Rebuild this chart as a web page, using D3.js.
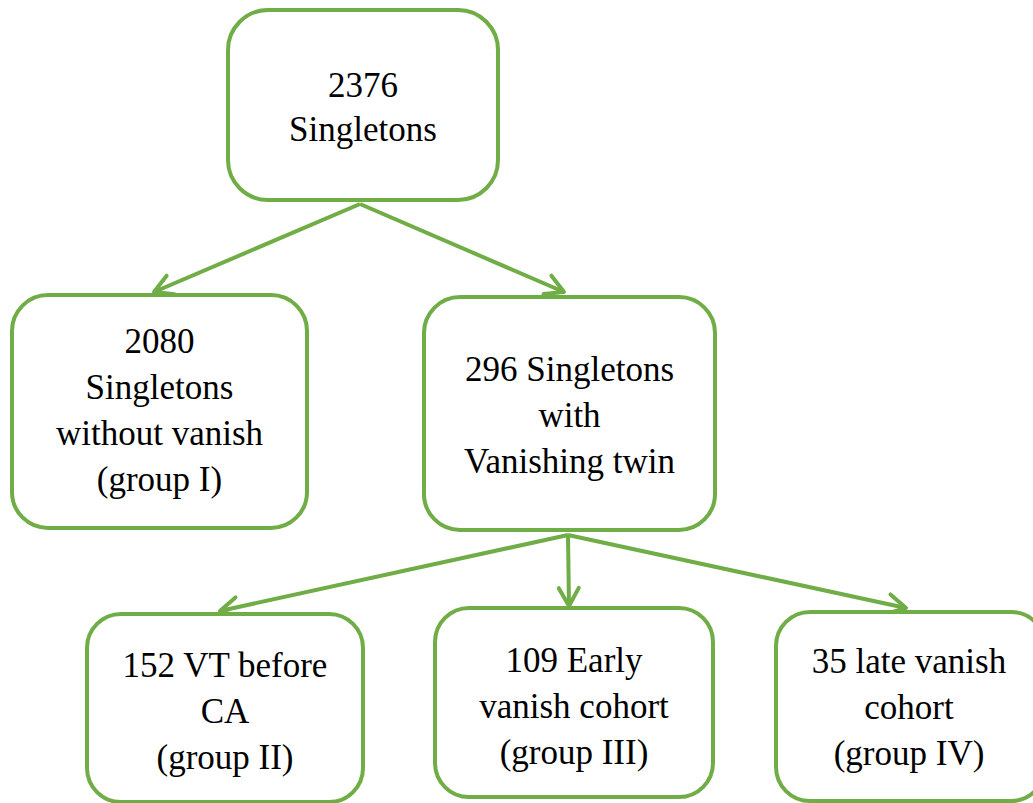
<!DOCTYPE html>
<html lang="en">
<head>
<meta charset="utf-8">
<title>Vanishing twin flowchart</title>
</head>
<body style="margin:0">
<script src="https://cdn.jsdelivr.net/npm/d3@7"></script>
<script>
// counts and labels for each group
var nodeIds = ["all", "g1", "vt", "g2", "g3", "g4"];
var nodeLines = [
  ["2376", "Singletons"],
  ["2080", "Singletons", "without vanish", "(group I)"],
  ["296 Singletons", "with", "Vanishing twin"],
  ["152 VT before", "CA", "(group II)"],
  ["109 Early", "vanish cohort", "(group III)"],
  ["35 late vanish", "cohort", "(group IV)"]
];
var linkFrom = ["all", "all", "vt", "vt", "vt"];
var linkTo   = ["g1", "vt", "g2", "g3", "g4"];

// layout (x0, y0, x1, y1 for each box, first baseline, corner radius)
var w = 1033, h = 803;
var green = "#70ad47";
var layout = {
  all: {x0: 228, y0: 10,  x1: 498,  y1: 200, base: 97,  r: 40},
  g1:  {x0: 12,  y0: 295, x1: 307,  y1: 528, base: 353, r: 36},
  vt:  {x0: 424, y0: 297, x1: 715,  y1: 530, base: 381, r: 36},
  g2:  {x0: 87,  y0: 614, x1: 363,  y1: 802, base: 677, r: 34},
  g3:  {x0: 435, y0: 608, x1: 713,  y1: 797, base: 672, r: 34},
  g4:  {x0: 776, y0: 612, x1: 1045, y1: 801, base: 673, r: 34}
};
var lineGap = 46;
// where arrows leave a box and where their tips land
var startPt = {all: [360, 204], vt: [568, 535]};
var endPt = {g1: [154, 292], vt: [564, 292], g2: [220, 611], g3: [569, 606], g4: [906, 608]};

var svg = d3.select("body").append("svg")
  .attr("width", w)
  .attr("height", h)
  .attr("font-family", "Liberation Serif")
  .style("font-family", "'Liberation Serif'");

svg.append("defs").append("marker")
  .attr("id", "chev")
  .attr("markerUnits", "userSpaceOnUse")
  .attr("viewBox", "-24 -14 28 28")
  .attr("refX", 0)
  .attr("refY", 0)
  .attr("markerWidth", 28)
  .attr("markerHeight", 28)
  .attr("orient", "auto")
  .append("path")
  .attr("d", "M-18,-10L0,0L-18,10")
  .attr("fill", "none")
  .attr("stroke", green)
  .attr("stroke-width", 4)
  .attr("stroke-linecap", "round")
  .attr("stroke-linejoin", "round");

// arrows
var links = linkFrom.map(function(f, i) { return {from: f, to: linkTo[i]}; });
svg.selectAll("line.link")
  .data(links)
  .enter()
  .append("line")
  .attr("class", "link")
  .attr("stroke", green)
  .attr("stroke-width", 4)
  .attr("x1", function(d) { return startPt[d.from][0]; })
  .attr("y1", function(d) { return startPt[d.from][1]; })
  .attr("x2", function(d) { return endPt[d.to][0]; })
  .attr("y2", function(d) { return endPt[d.to][1]; })
  .attr("marker-end", "url(#chev)");

// boxes
var nodes = nodeIds.map(function(id, i) { return {id: id, lines: nodeLines[i], L: layout[id]}; });
nodes.forEach(function(d) {
  svg.append("rect")
    .attr("fill", "#fff")
    .attr("stroke", green)
    .attr("stroke-width", 4)
    .attr("x", d.L.x0)
    .attr("y", d.L.y0)
    .attr("width", d.L.x1 - d.L.x0)
    .attr("height", d.L.y1 - d.L.y0)
    .attr("rx", d.L.r);

  var cx = d.id === "g4" ? 909 : (d.L.x0 + d.L.x1) / 2;
  var gap = d.id === "all" ? 44 : lineGap;
  d.lines.forEach(function(t, i) {
    svg.append("text")
      .attr("x", cx)
      .attr("y", d.L.base + i * gap)
      .attr("text-anchor", "middle")
      .style("font-family", "'Liberation Serif'")
      .style("font-size", "35px")
      .style("fill", "#000")
      .text(t);
  });
});
</script>
</body>
</html>
